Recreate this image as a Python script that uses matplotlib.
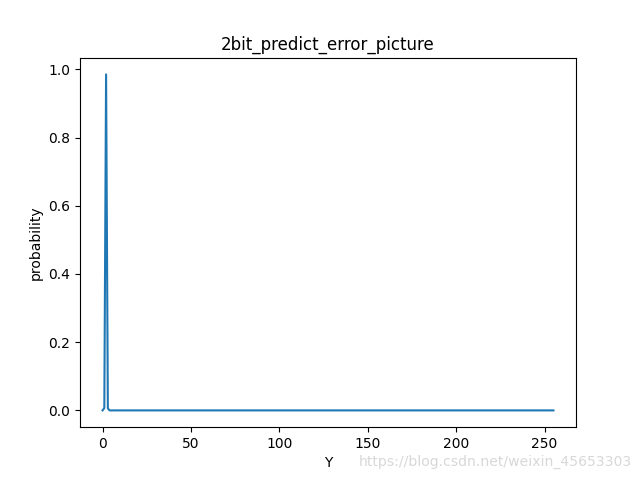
import matplotlib.pyplot as plt
import numpy as np

# gray levels 0..255 and the predicted-error probability at each level
levels = np.arange(256)
peak_probs = [0.0, 0.007, 0.985, 0.006]
tail_probs = [0.0] * 252
probability = peak_probs + tail_probs

fig, ax = plt.subplots(figsize=(6.4, 4.8), dpi=100)
ax.plot(levels, probability)

ax.set_title('2bit_predict_error_picture')
ax.set_xlabel('Y')
ax.set_ylabel('probability')

# blog watermark
fig.text(0.987, 0.038, 'https://blog.csdn.net/weixin_45653303', ha='right', va='center',
         fontsize=10.1, color='#d8d8d8')

plt.savefig('out.png')
